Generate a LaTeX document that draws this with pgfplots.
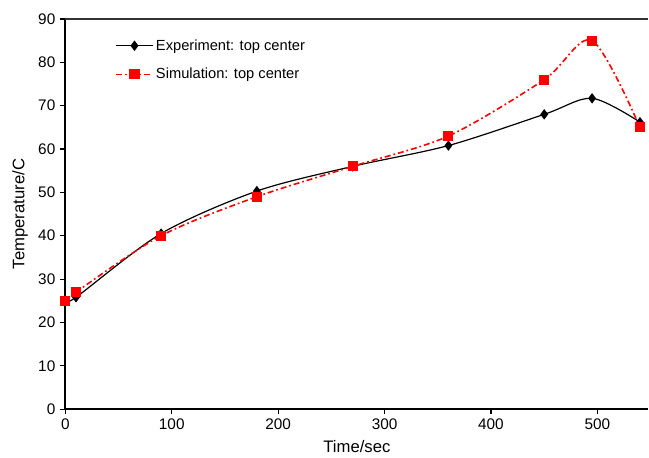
\documentclass[border=0pt]{standalone}
\usepackage{pgfplots}
\pgfplotsset{compat=1.18}
\usepackage{fontspec}
\setmainfont{Liberation Sans}
\begin{document}
\begin{tikzpicture}
\begin{axis}[
  scale only axis, width=437.25pt, height=292.5pt,
  xmin=0, xmax=548, ymin=0, ymax=90,
  axis x line*=bottom, axis y line*=left,
  axis line style={line width=1.3pt, -},
  xtick={0,100,200,300,400,500}, ytick={0,10,...,90},
  tick align=outside, tick style={black, line width=0.8pt}, major tick length=4pt,
  /pgf/number format/assume math mode=true,
  tick label style={font=\fontsize{11.5}{13}\selectfont},
  label style={font=\fontsize{12.5}{14}\selectfont},
  xlabel={Time/sec}, ylabel={Temperature/C},
  xlabel style={yshift=-1pt}, ylabel style={yshift=1pt},
  legend style={draw=none, fill=none, at={(0.079,0.962)}, anchor=north west,
    font=\fontsize{11}{13}\selectfont, row sep=8pt},
  legend cell align=left,
  legend image code/.code={\draw[#1] (0cm,0cm) -- (0.95cm,0cm); \draw[#1, solid] plot coordinates {(0.475cm,0cm)};},
  clip=false,
]
\addplot[black, line width=0.9pt, smooth, tension=0.5, mark=diamond*, mark size=3.2pt, mark options={solid, fill=black}]
 coordinates {(0,25) (10,25.8) (90,40.5) (180,50.3) (270,56) (360,60.8) (450,68) (495,71.7) (540,66.2)};
\addlegendentry{Experiment: top center}
\addplot[red, line width=1.2pt, dash pattern=on 4.5pt off 2.2pt on 1.3pt off 2.2pt, smooth, tension=0.5, mark=square*, mark size=3.2pt, mark options={solid, fill=red}]
 coordinates {(0,25) (10,27) (90,40) (180,49) (270,56) (360,63) (450,76) (495,85) (540,65)};
\addlegendentry{Simulation: top center}
\draw[line width=1.3pt, black!80] (rel axis cs:0,1) -- (rel axis cs:1,1);
\coordinate (sw) at (rel axis cs:0,0);
\coordinate (ne) at (rel axis cs:1,1);
\end{axis}
\pgfresetboundingbox
\path (sw) ++(-49pt,-36pt) coordinate (bbsw);
\path (ne) ++(0.4pt,14.25pt) coordinate (bbne);
\path[use as bounding box] (bbsw) rectangle (bbne);
\end{tikzpicture}
\end{document}
